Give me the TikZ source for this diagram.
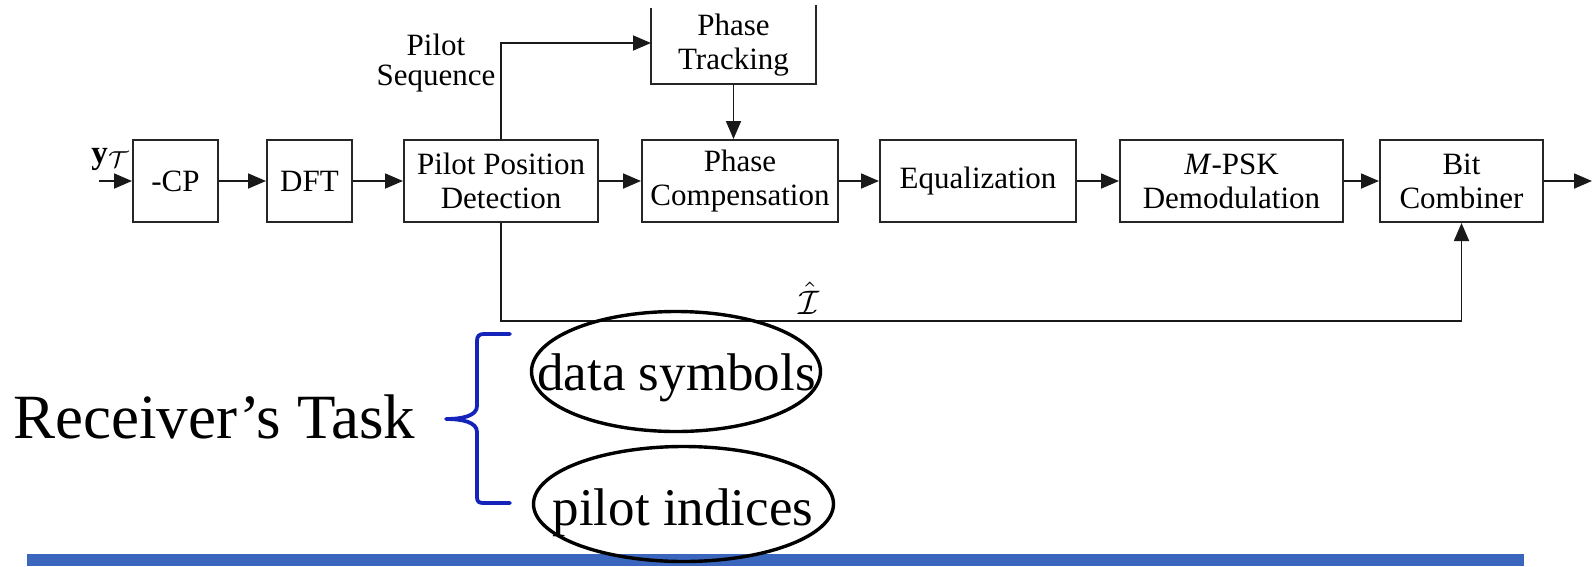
\documentclass[tikz,border=0pt]{standalone}
\usepackage{graphicx}
\usepackage{fontspec}
\setmainfont{Liberation Serif}
\usetikzlibrary{arrows.meta,shapes.geometric}
\definecolor{barblue}{RGB}{58,102,189}
\definecolor{braceblue}{RGB}{20,35,185}
\begin{document}
\begin{tikzpicture}[x=1pt,y=-1pt,
  blk/.style={draw=black!85,line width=2pt,minimum height=82pt,inner sep=0pt,align=center,font=\fontsize{31}{34}\selectfont},
  arr/.style={line width=1.8pt,black!90,-{Triangle[length=18pt,width=15pt]}},
  lbl/.style={inner sep=0pt,align=center,font=\fontsize{31}{30}\selectfont},
  mth/.style={inner sep=0pt,font=\normalsize},
  ell/.style={ellipse,draw=black,line width=3.4pt,inner sep=0pt},
  big/.style={inner sep=0pt,font=\fontsize{53}{60}\selectfont}]
\useasboundingbox (0,0) rectangle (1593,566);
% bottom bar
\fill[barblue] (27,554) rectangle (1524,566);
% blocks
\node[blk,minimum width=85pt] (cp) at (175.5,181) {-CP};
\node[blk,minimum width=85pt] (dft) at (309.5,181) {DFT};
\node[blk,minimum width=194pt] (ppd) at (501,181) {Pilot Position\\Detection};
\node[blk,draw=none,minimum width=163pt,minimum height=75pt] (pt) at (733.5,45) {Phase\\Tracking};
\draw[line width=2pt,black!85] (pt.north west) ++(0,1.5) -- (pt.south west |- 0,84) -- (pt.south east |- 0,84) -- ([yshift=1.5pt]pt.north east);
\coordinate (ptb) at (733.5,84);
\node[blk,minimum width=196pt] (pc) at (740,181) {Phase\\Compensation};
\node[blk,minimum width=196pt] (eq) at (978,181) {Equalization};
\node[blk,minimum width=223pt] (mp) at (1231.5,181) {\textit{M}-PSK\\Demodulation};
\node[blk,minimum width=163pt] (bc) at (1461.5,181) {Bit\\Combiner};
% labels
\node[mth] (yt) at (111,159) {\scalebox{3.3}{$\mathbf{y}_{\mathcal{T}}$}};
\node[lbl] (ps) at (436,63) {Pilot\\Sequence};
\node[mth] (ih) at (809,298) {\scalebox{3.4}{$\hat{\mathcal{I}}$}};
% connectors
\coordinate (in) at (99,181);
\coordinate (out) at (1592,181);
\draw[arr] (in) -- (cp);
\draw[arr] (cp) -- (dft);
\draw[arr] (dft) -- (ppd);
\draw[arr] (ppd) -- (pc);
\draw[arr] (pc) -- (eq);
\draw[arr] (eq) -- (mp);
\draw[arr] (mp) -- (bc);
\draw[arr] (bc) -- (out);
\draw[arr] (ppd.north) |- (pt.west |- 0,43);
\draw[arr] (ptb) -- (ptb |- pc.north);
\draw[arr] (ppd.south) -- ++(0,98) -| (bc.south);
% bottom part
\node[inner sep=0pt,anchor=base west,font=\fontsize{63}{70}\selectfont] (rt) at (13,438) {Receiver’s Task};
\draw[braceblue,line width=3.8pt,line cap=round,line join=round]
  (510,334) -- (484,334) .. controls (479,334) and (477,336) .. (477,341)
  -- (477,406) .. controls (477,416) and (462,419) .. (446,419)
  .. controls (462,419) and (477,422) .. (477,432)
  -- (477,497) .. controls (477,502) and (479,503) .. (484,503) -- (510,503);
\node[ell,minimum width=289pt,minimum height=120pt] (e1) at (676,371.5) {};
\node[ell,minimum width=300pt,minimum height=115pt] (e2) at (683.5,504) {};
\node[big,anchor=base] (ds) at (676.5,390) {data symbols};
\node[big,anchor=base] (pi) at (683,525) {pilot indices};
\end{tikzpicture}
\end{document}
